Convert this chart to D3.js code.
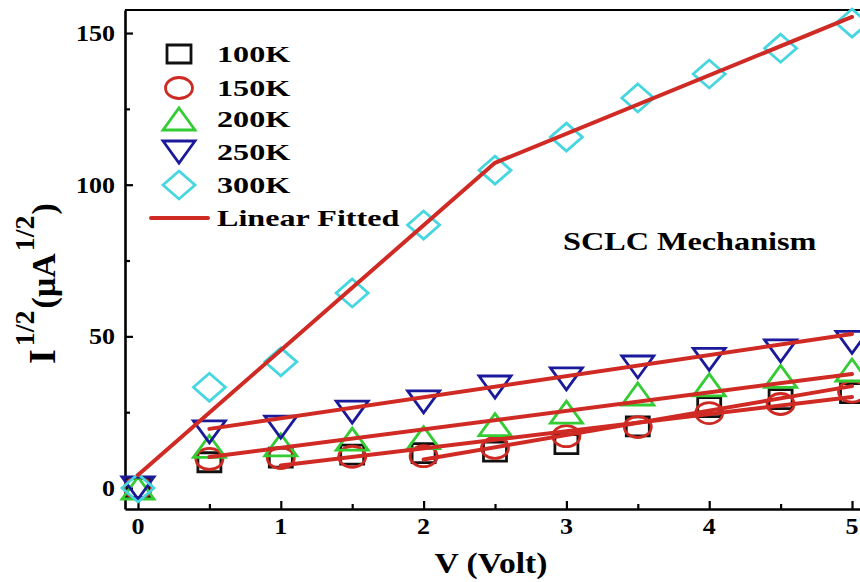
<!DOCTYPE html>
<html><head><meta charset="utf-8">
<script src="https://cdn.jsdelivr.net/npm/d3@7"></script>
<style>body{margin:0;background:#fff} svg{display:block}</style>
</head><body>
<svg id="c" width="860" height="582"></svg>
<script>
// ---------- data ----------
const voltage = [0, 0.5, 1, 1.5, 2, 2.5, 3, 3.5, 4, 4.5, 5];
const i100 = [0, 8.5, 10, 11, 11.5, 12, 14.5, 20.3, 26.7, 29.3, 31.3];
const i150 = [0, 9.6, 9.9, 10.3, 10.5, 13.2, 17.1, 20.1, 24.7, 27.7, 31.8];
const i200 = [0, 13.7, 14.2, 16.1, 16.6, 20.9, 25, 31, 34, 36.8, 38.9];
const i250 = [0, 18.5, 20.1, 25, 28.4, 33.3, 36, 39.9, 42.4, 45.2, 48];
const i300 = [0, 33.2, 41.6, 64.3, 86.7, 104.8, 115.7, 128.6, 136.5, 145, 153.3];

const fitV100 = [2, 5],      fitI100 = [9.4, 33.6];
const fitV150 = [1, 5],      fitI150 = [7.4, 30.0];
const fitV200 = [0.5, 5],    fitI200 = [10.2, 37.6];
const fitV250 = [0.5, 5],    fitI250 = [19.5, 50.8];
const fitV300 = [0, 2.5, 5], fitI300 = [4.3, 107.2, 155.3];

const seriesLabels = ["100K", "150K", "200K", "250K", "300K"];
const fitLabel = "Linear Fitted";
const xTicks = [0, 1, 2, 3, 4, 5];
const xMinor = [0.5, 1.5, 2.5, 3.5, 4.5];
const yTicks = [0, 50, 100, 150];
const yMinor = [25, 75, 125];
const xTitle = "V (Volt)";
const annotation = "SCLC Mechanism";

// ---------- styling ----------
const series = [
  {label: seriesLabels[0], values: i100, shape: "square",  color: "#111111", w: 23, h: 19},
  {label: seriesLabels[1], values: i150, shape: "circle",  color: "#cc2a22", w: 27, h: 21},
  {label: seriesLabels[2], values: i200, shape: "up",      color: "#33cc33", w: 32, h: 22},
  {label: seriesLabels[3], values: i250, shape: "down",    color: "#1a1a9a", w: 32, h: 22},
  {label: seriesLabels[4], values: i300, shape: "diamond", color: "#45d6e0", w: 32, h: 28}
];
const fits = [
  {v: fitV100, i: fitI100}, {v: fitV150, i: fitI150}, {v: fitV200, i: fitI200},
  {v: fitV250, i: fitI250}, {v: fitV300, i: fitI300}
];
const fitColor = "#d02a24";
const FONT = "'Liberation Serif','Times New Roman',serif";

function markerPath(shape, w, h) {
  const a = w / 2, b = h / 2;
  switch (shape) {
    case "square":  return `M${-a},${-b}H${a}V${b}H${-a}Z`;
    case "circle":  return `M${-a},0A${a},${b} 0 1 0 ${a},0A${a},${b} 0 1 0 ${-a},0Z`;
    case "up":      return `M0,${-b}L${a},${b}L${-a},${b}Z`;
    case "down":    return `M${-a},${-b}L${a},${-b}L0,${b}Z`;
    case "diamond": return `M0,${-b}L${a},0L0,${b}L${-a},0Z`;
  }
}

const svg = d3.select("#c");
const L = 125, R = 866, T = 10, B = 509;
const x = d3.scaleLinear().domain([-0.091, 5.098]).range([L, R]);
const y = d3.scaleLinear().domain([-6.92, 157.6]).range([B, T]);

function sText(g, tx, ty, str, size, sx, anchor) {
  return g.append("text")
    .attr("transform", `translate(${tx},${ty}) scale(${sx},1)`)
    .attr("text-anchor", anchor || "start")
    .attr("font-family", FONT).attr("font-weight", "bold")
    .attr("font-size", size).attr("fill", "#000").text(str);
}

// ---------- axes ----------
const axB = svg.append("g").attr("transform", `translate(0,${B})`)
  .call(d3.axisBottom(x).tickValues(xTicks).tickSizeInner(-8).tickSizeOuter(0).tickFormat(""));
const axBm = svg.append("g").attr("transform", `translate(0,${B})`)
  .call(d3.axisBottom(x).tickValues(xMinor).tickSizeInner(-5).tickSizeOuter(0).tickFormat(""));
axBm.select(".domain").remove();
const axL = svg.append("g").attr("transform", `translate(${L},0)`)
  .call(d3.axisLeft(y).tickValues(yTicks).tickSizeInner(-8).tickSizeOuter(0).tickFormat(""));
const axLm = svg.append("g").attr("transform", `translate(${L},0)`)
  .call(d3.axisLeft(y).tickValues(yMinor).tickSizeInner(-5).tickSizeOuter(0).tickFormat(""));
axLm.select(".domain").remove();
svg.selectAll(".domain").attr("stroke", "#000").attr("stroke-width", 2.6);
svg.selectAll(".tick line").attr("stroke", "#000").attr("stroke-width", 2.2);
svg.append("line").attr("x1", L).attr("x2", 860).attr("y1", T).attr("y2", T)
  .attr("stroke", "#000").attr("stroke-width", 2.2);

// tick labels
const lab = svg.append("g");
xTicks.forEach(v => sText(lab, x(v), 534, d3.format("d")(v), 23, 1.13, "middle"));
yTicks.forEach(v => sText(lab, 115, y(v) + 8, d3.format("d")(v), 23, 1.13, "end"));

// axis titles
sText(svg, 491, 573, xTitle, 30, 1.12, "middle");
const yt = svg.append("text")
  .attr("transform", "translate(55,364) rotate(-90)")
  .attr("font-family", FONT).attr("font-weight", "bold").attr("fill", "#000");
yt.append("tspan").attr("font-size", 38).text("I");
yt.append("tspan").attr("font-size", 28).attr("dy", -21).attr("dx", 3).text("1/2");
yt.append("tspan").attr("font-size", 34).attr("dy", 21).attr("dx", 2).text("(μA");
yt.append("tspan").attr("font-size", 28).attr("dy", -21).attr("dx", 2).text("1/2");
yt.append("tspan").attr("font-size", 34).attr("dy", 21).attr("dx", 1).text(")");

// ---------- marks ----------
const plot = svg.append("g");
series.forEach(s => {
  plot.append("g").selectAll("path").data(voltage.map((v, k) => [v, s.values[k]]))
    .join("path")
    .attr("transform", d => `translate(${x(d[0])},${y(d[1])})`)
    .attr("d", markerPath(s.shape, s.w, s.h))
    .attr("fill", "none").attr("stroke", s.color).attr("stroke-width", 2.8);
});
const line = d3.line().x(d => x(d[0])).y(d => y(d[1]));
fits.forEach(f => {
  plot.append("path").datum(f.v.map((v, k) => [v, f.i[k]]))
    .attr("d", line).attr("fill", "none").attr("stroke", fitColor)
    .attr("stroke-width", 4).attr("stroke-linecap", "round").attr("stroke-linejoin", "round");
});

// ---------- legend ----------
const leg = svg.append("g");
const rowY = [54, 88, 119, 152, 185, 218];
series.forEach((s, k) => {
  leg.append("path").attr("transform", `translate(179,${rowY[k]})`)
    .attr("d", markerPath(s.shape, s.shape === "square" ? 24 : s.w, s.shape === "square" ? 18 : s.h))
    .attr("fill", "none").attr("stroke", s.color).attr("stroke-width", 2.8);
  sText(leg, 217, rowY[k] + 8, s.label, 24, 1.34);
});
leg.append("line").attr("x1", 151).attr("x2", 208).attr("y1", rowY[5]).attr("y2", rowY[5])
  .attr("stroke", fitColor).attr("stroke-width", 4).attr("stroke-linecap", "round");
sText(leg, 217, rowY[5] + 8, fitLabel, 24, 1.34);

sText(svg, 563, 250, annotation, 25, 1.29);
</script>
</body></html>
